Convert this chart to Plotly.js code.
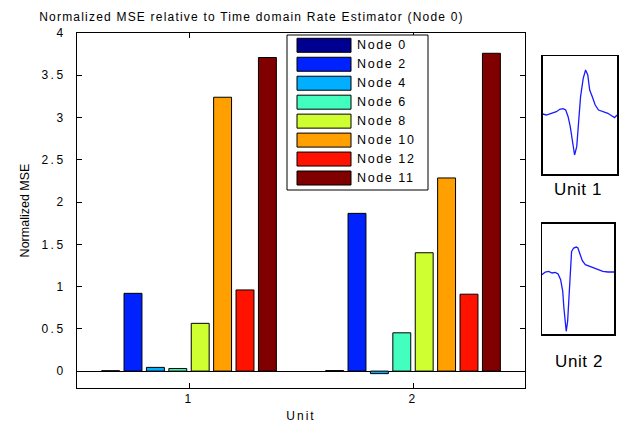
<!DOCTYPE html>
<html>
<head>
<meta charset="utf-8">
<script src="https://cdn.plot.ly/plotly-3.0.1.min.js"></script>
<style>
  html, body { margin: 0; padding: 0; background: #fff; }
  #chart { width: 621px; height: 424px; }
  .gtitle { letter-spacing: 1.2px; }
  .xtick text, .ytick text { letter-spacing: 2.5px; }
  .g-xtitle text { letter-spacing: 2px; }
  .annotation-text { letter-spacing: 1.6px; }
  .annotation[data-index="8"] text, .annotation[data-index="9"] text { letter-spacing: 0.6px; }
</style>
</head>
<body>
<div id="chart"></div>
<script>
// ---- data ----
const units = [1, 2];
const nodeNames = ['Node 0', 'Node 2', 'Node 4', 'Node 6', 'Node 8', 'Node 10', 'Node 12', 'Node 11'];
const nodeColors = ['#000090', '#0022ff', '#00afff', '#42ffbf', '#cfff30', '#ffa000', '#ff1200', '#800000'];
const unit1MSE = [0.004, 0.92, 0.044, 0.03, 0.565, 3.24, 0.96, 3.71];
const unit2MSE = [0.006, 1.866, -0.03, 0.453, 1.40, 2.285, 0.91, 3.76];
const unitLabels = ['Unit 1', 'Unit 2'];
// spike waveforms (sample index, amplitude)
const wave1T = [0, 1.5, 3.6, 5.7, 7.1, 8.5, 9.6, 10.6, 11.5, 12.4, 13.3, 14.2, 15.0, 15.8, 16.9, 17.9, 18.8, 19.6, 20.7, 21.9, 23.3, 25.1, 27.2, 28.9, 30.0, 31.0];
const wave1A = [0, -0.03, 0.02, 0.07, 0.14, 0.16, 0.12, -0.08, -0.38, -0.78, -1.23, -0.98, -0.28, 0.52, 1.07, 1.32, 1.17, 0.72, 0.52, 0.27, 0.12, 0.07, 0.02, -0.06, -0.11, -0.03];
const wave2T = [0, 1.4, 2.9, 4.3, 5.7, 6.9, 8.0, 8.9, 9.4, 10.0, 10.4, 11.0, 11.6, 12.1, 12.7, 13.6, 14.7, 15.4, 16.3, 17.3, 18.6, 20.4, 22.6, 24.7, 26.1, 28.3, 30.9];
const wave2A = [-0.05, 0.03, 0.05, 0, 0.02, -0.03, -0.2, -0.55, -1.05, -1.5, -1.75, -1.45, -0.65, 0.15, 0.65, 0.75, 0.78, 0.75, 0.55, 0.37, 0.25, 0.2, 0.15, 0.1, 0.05, 0.03, 0.03];

// ---- helpers (figure pixels -> paper) ----
const W = 621, H = 424;
const px = x => x / W;
const py = y => 1 - y / H;
const FONT = 'Liberation Sans, Arial, sans-serif';

const traces = nodeNames.map((name, i) => ({
  type: 'bar',
  name: name,
  x: units,
  y: [unit1MSE[i], unit2MSE[i]],
  marker: { color: nodeColors[i], line: { color: '#000', width: 1 } },
  xaxis: 'x', yaxis: 'y',
  showlegend: false,
  hoverinfo: 'skip'
}));

traces.push({
  type: 'scatter', mode: 'lines', x: wave1T, y: wave1A,
  line: { color: '#1a1aff', width: 1.3 }, xaxis: 'x2', yaxis: 'y2', showlegend: false, hoverinfo: 'skip'
});
traces.push({
  type: 'scatter', mode: 'lines', x: wave2T, y: wave2A,
  line: { color: '#1a1aff', width: 1.3 }, xaxis: 'x3', yaxis: 'y3', showlegend: false, hoverinfo: 'skip'
});

// custom legend (wide swatches like the original)
const shapes = [];
const annotations = [];
const legL = 287, legR = 428, legT = 35, legB = 190;
shapes.push({ type: 'rect', xref: 'paper', yref: 'paper', x0: px(legL), x1: px(legR), y0: py(legB), y1: py(legT),
  line: { color: '#000', width: 1 }, fillcolor: '#fff', layer: 'above' });
nodeNames.forEach((name, i) => {
  const cy = 45.3 + i * 18.96;
  shapes.push({ type: 'rect', xref: 'paper', yref: 'paper', x0: px(297), x1: px(351), y0: py(cy + 7), y1: py(cy - 7),
    line: { color: '#000', width: 1 }, fillcolor: nodeColors[i], layer: 'above' });
  annotations.push({ xref: 'paper', yref: 'paper', x: px(355), y: py(cy), xanchor: 'left', yanchor: 'middle',
    text: name, showarrow: false, font: { family: FONT, size: 12.5, color: '#000' } });
});
// inset labels
annotations.push({ xref: 'paper', yref: 'paper', x: px(578), y: py(189.5), xanchor: 'center', yanchor: 'middle',
  text: unitLabels[0], showarrow: false, font: { family: FONT, size: 17, color: '#000' } });
annotations.push({ xref: 'paper', yref: 'paper', x: px(579), y: py(361), xanchor: 'center', yanchor: 'middle',
  text: unitLabels[1], showarrow: false, font: { family: FONT, size: 17, color: '#000' } });

const insetAxis = (dom, rng) => ({
  domain: dom, range: rng, showline: true, mirror: true, linecolor: '#000', linewidth: 1.5,
  showticklabels: false, ticks: '', showgrid: false, zeroline: false, fixedrange: true
});

const layout = {
  width: W, height: H,
  margin: { l: 0, r: 0, t: 0, b: 0 },
  paper_bgcolor: '#fff', plot_bgcolor: '#fff',
  font: { family: FONT, color: '#000', size: 12 },
  title: { text: 'Normalized MSE relative to Time domain Rate Estimator (Node 0)',
    x: px(251.5), y: py(17), xref: 'container', yref: 'container', xanchor: 'center', yanchor: 'middle',
    font: { family: FONT, size: 12, color: '#000' } },
  barmode: 'group', bargap: 0.2, bargroupgap: 0.2,
  xaxis: {
    domain: [px(77), px(525)], range: [0.5, 2.5], tickvals: units, ticktext: units.map(String),
    showline: true, mirror: 'ticks', linecolor: '#000', linewidth: 1,
    ticks: 'inside', ticklen: 5, tickcolor: '#000', showgrid: false, zeroline: false,
    tickfont: { family: FONT, size: 12 },
    title: { text: 'Unit', standoff: 6, font: { family: FONT, size: 12 } }
  },
  yaxis: {
    domain: [py(388), py(33)], range: [-0.2, 4], dtick: 0.5, tick0: 0,
    showline: true, mirror: 'ticks', linecolor: '#000', linewidth: 1,
    ticks: 'inside', ticklen: 5, tickcolor: '#000', showgrid: false,
    zeroline: true, zerolinecolor: '#000', zerolinewidth: 1,
    tickfont: { family: FONT, size: 12 }, ticklabelstandoff: 8,
    title: { text: 'Normalized MSE', standoff: 9, font: { family: FONT, size: 12.5 } }
  },
  xaxis2: Object.assign(insetAxis([px(542.7), px(617)], [0, 31]), { anchor: 'y2' }),
  yaxis2: Object.assign(insetAxis([py(174), py(56)], [-1.80, 1.74]), { anchor: 'x2' }),
  xaxis3: Object.assign(insetAxis([px(542), px(614)], [0, 30.9]), { anchor: 'y3' }),
  yaxis3: Object.assign(insetAxis([py(334.3), py(223.7)], [-1.84, 1.48]), { anchor: 'x3' }),
  shapes: shapes,
  annotations: annotations
};

Plotly.newPlot('chart', traces, layout, { displayModeBar: false, staticPlot: true });
</script>
</body>
</html>
